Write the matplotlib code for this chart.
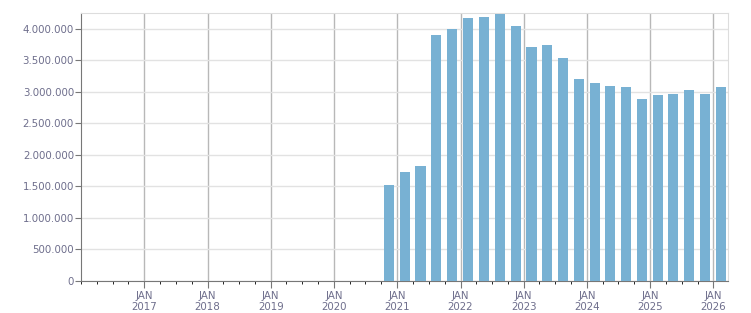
import datetime as dt
import matplotlib
matplotlib.use("Agg")
import matplotlib.pyplot as plt
import matplotlib.dates as mdates
from matplotlib.ticker import FuncFormatter, MultipleLocator

# quarterly bars, centred mid-quarter-month
dates = ["2020-11-15", "2021-02-15", "2021-05-15", "2021-08-15", "2021-11-15",
         "2022-02-15", "2022-05-15", "2022-08-15", "2022-11-15",
         "2023-02-15", "2023-05-15", "2023-08-15", "2023-11-15",
         "2024-02-15", "2024-05-15", "2024-08-15", "2024-11-15",
         "2025-02-15", "2025-05-15", "2025-08-15", "2025-11-15",
         "2026-02-15"]
values = [1521000, 1728000, 1824000, 3906000, 4000000,
          4177000, 4193000, 4240000, 4050000,
          3716000, 3748000, 3540000, 3207000,
          3143000, 3095000, 3079000, 2889000,
          2952000, 2968000, 3032000, 2968000,
          3079000]
years = list(range(2017, 2027))

x = [dt.datetime.strptime(d, "%Y-%m-%d") for d in dates]
txt = "#6e6e8c"

fig = plt.figure(figsize=(7.51, 3.13), dpi=100)
ax = fig.add_axes([81/751, 32/313, 647/751, 268/313])
ax.bar(x, values, width=58, color="#78b1d3", zorder=3)

ax.set_xlim(dt.datetime(2016, 1, 1), dt.datetime(2026, 3, 26))
ax.set_ylim(0, 4250000)

ax.yaxis.set_major_locator(MultipleLocator(500000))
ax.yaxis.set_major_formatter(FuncFormatter(lambda v, p: f"{int(v):,}".replace(",", ".")))
ax.set_xticks([dt.datetime(y, 1, 1) for y in years])
ax.set_xticklabels([f"JAN\n{y}" for y in years])
ax.xaxis.set_minor_locator(mdates.MonthLocator(bymonth=[1, 4, 7, 10]))

ax.grid(axis="y", color="#e2e2e2", linewidth=1, zorder=0)
ax.grid(axis="x", which="major", color="#b8b8b8", linewidth=1, zorder=0)
for s in ["top", "right"]:
    ax.spines[s].set_color("#dddddd")
for s in ["left", "bottom"]:
    ax.spines[s].set_color("#777777")

ax.tick_params(axis="both", colors="#777777", labelcolor=txt, labelsize=7.4)
ax.tick_params(axis="x", which="major", length=5, pad=2)
ax.tick_params(axis="x", which="minor", length=2)
ax.tick_params(axis="y", length=4, pad=1)

fig.savefig("out.png", dpi=100)
